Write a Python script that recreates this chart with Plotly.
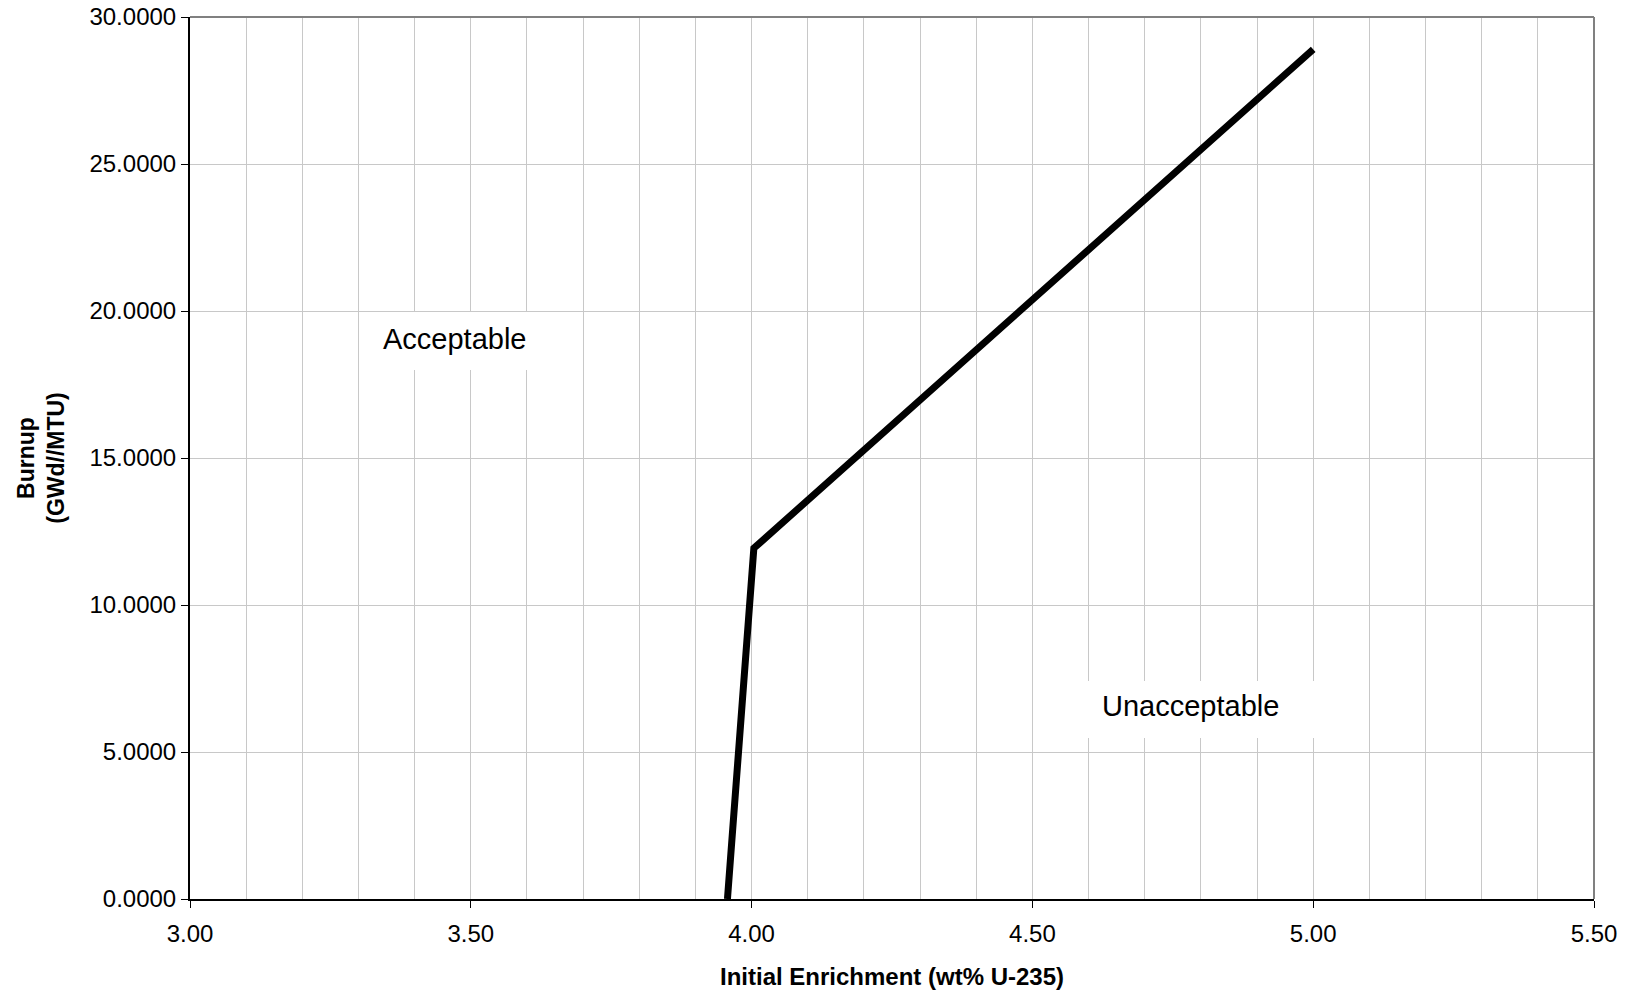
import plotly.graph_objects as go

# Data
enrichment = [3.957, 4.0, 4.004, 5.0]
burnup = [0.0, 10.9, 11.93, 28.9]

x_range = [3.0, 5.5]
y_range = [0.0, 30.0]

labels = ["Acceptable", "Unacceptable"]
label_x = [3.471, 4.782]
label_y = [19.05, 6.55]
box_x = [3.457, 4.801]
box_y = [18.98, 6.43]
box_w = [176, 226]
box_h = [58, 57]

FONT = "Liberation Sans, Arial, Helvetica, sans-serif"

fig = go.Figure()
fig.add_trace(go.Scatter(
    x=enrichment, y=burnup, mode="lines",
    line=dict(color="black", width=7),
    showlegend=False, hoverinfo="skip",
))

annotations = []
for bx, by, bw, bh in zip(box_x, box_y, box_w, box_h):
    annotations.append(dict(
        x=bx, y=by, xref="x", yref="y", text=" ", showarrow=False,
        width=bw, height=bh, bgcolor="white", borderpad=0, borderwidth=0,
        xanchor="center", yanchor="middle",
    ))
for t, lx, ly in zip(labels, label_x, label_y):
    annotations.append(dict(
        x=lx, y=ly, xref="x", yref="y", text=t, showarrow=False,
        font=dict(family=FONT, size=29, color="black"),
        xanchor="center", yanchor="middle",
    ))

fig.update_layout(
    width=1633, height=995,
    margin=dict(l=189.5, r=38.7, t=17, b=95.7, pad=0),
    plot_bgcolor="white", paper_bgcolor="white",
    font=dict(family=FONT, size=24, color="black"),
    annotations=annotations,
    shapes=[
        dict(type="line", xref="x domain", yref="y domain", x0=0, x1=1, y0=1, y1=1,
             line=dict(color="#808080", width=2)),
        dict(type="line", xref="x domain", yref="y domain", x0=1, x1=1, y0=0, y1=1,
             line=dict(color="#808080", width=2)),
    ],
    xaxis=dict(
        range=x_range, dtick=0.5, tick0=3.0, tickformat=".2f",
        showgrid=True, gridcolor="#c8c8c8", gridwidth=1,
        minor=dict(dtick=0.1, tick0=3.0, showgrid=True, gridcolor="#c8c8c8", gridwidth=1),
        showline=True, linecolor="black", linewidth=2,
        ticks="outside", ticklen=7, tickwidth=1, tickcolor="black",
        ticklabelstandoff=5,
        zeroline=False, automargin=False,
        title=dict(text="<b>Initial Enrichment (wt% U-235)</b>",
                   font=dict(family=FONT, size=24), standoff=22),
        tickfont=dict(family=FONT, size=24),
    ),
    yaxis=dict(
        range=y_range, dtick=5, tick0=0, tickformat=".4f",
        showgrid=True, gridcolor="#c8c8c8", gridwidth=1,
        showline=True, linecolor="black", linewidth=2,
        ticks="outside", ticklen=7, tickwidth=1, tickcolor="black",
        zeroline=False, automargin=False,
        title=dict(text="<b>Burnup<br>(GWd//MTU)</b>",
                   font=dict(family=FONT, size=23), standoff=18),
        tickfont=dict(family=FONT, size=24),
    ),
)

fig.write_html("out.html", config={"displayModeBar": False},
               post_script="document.body.style.margin='0';")
